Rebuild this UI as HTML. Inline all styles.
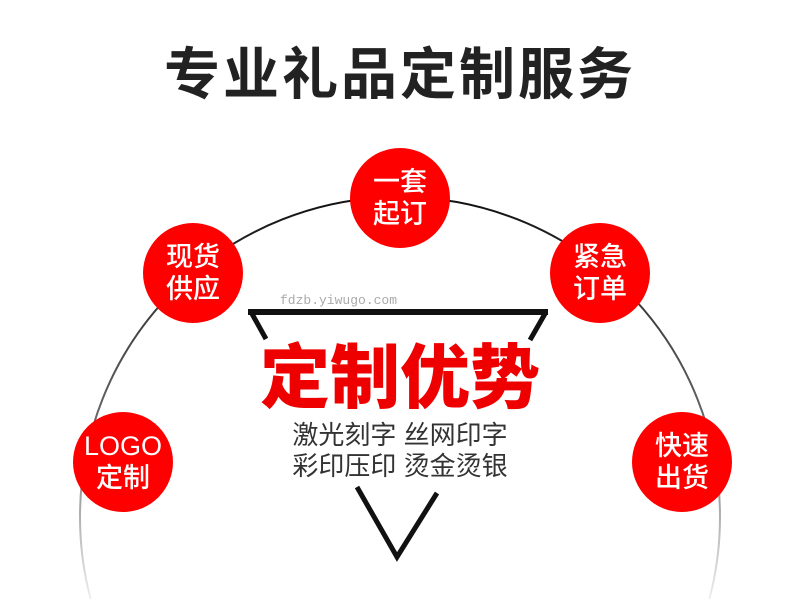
<!DOCTYPE html>
<html><head><meta charset="utf-8"><style>
html,body{margin:0;width:800px;height:599px;overflow:hidden}
body{background:#fff;position:relative;font-family:"Liberation Sans","Noto Sans CJK SC",sans-serif}
.t{position:absolute;left:0;width:800px;text-align:center}
.c{position:absolute;width:100px;height:100px;border-radius:50%;background:#f00;color:#fff;font-size:27px;line-height:32px;display:flex;align-items:center;justify-content:center;text-align:center;font-weight:500}
</style></head><body>
<svg width="800" height="599" style="position:absolute;left:0;top:0;overflow:hidden">
<defs><linearGradient id="g" gradientUnits="userSpaceOnUse" x1="0" y1="200" x2="0" y2="599"><stop offset="0" stop-color="#111"/><stop offset="0.55" stop-color="#666"/><stop offset="1" stop-color="#eee"/></linearGradient></defs>
<circle cx="400" cy="517" r="320" fill="none" stroke="url(#g)" stroke-width="2"/>
<line x1="248" y1="312" x2="548" y2="312" stroke="#111" stroke-width="6"/>
<line x1="251" y1="312" x2="266" y2="339" stroke="#111" stroke-width="5"/>
<line x1="546" y1="312" x2="530" y2="340" stroke="#111" stroke-width="5"/>
<polyline points="357,487 397,557 437,493" stroke="#111" stroke-width="5" fill="none"/>
</svg>
<div class="t" style="top:40px;font-size:56px;font-weight:bold;color:#222;letter-spacing:3px;line-height:70px">专业礼品定制服务</div>
<div class="c" style="left:350px;top:148px">一套<br>起订</div>
<div class="c" style="left:143px;top:223px">现货<br>供应</div>
<div class="c" style="left:550px;top:223px">紧急<br>订单</div>
<div class="c" style="left:73px;top:412px">LOGO<br>定制</div>
<div class="c" style="left:632px;top:412px">快速<br>出货</div>
<div style="position:absolute;left:280px;top:293px;font-family:'Liberation Mono',monospace;font-size:13px;color:#aaa">fdzb.yiwugo.com</div>
<div class="t" style="top:338px;font-size:70px;font-weight:900;color:#e00;line-height:80px">定制优势</div>
<div class="t" style="top:420px;font-size:26px;color:#333;line-height:31px">激光刻字 丝网印字<br>彩印压印 烫金烫银</div>
</body></html>
